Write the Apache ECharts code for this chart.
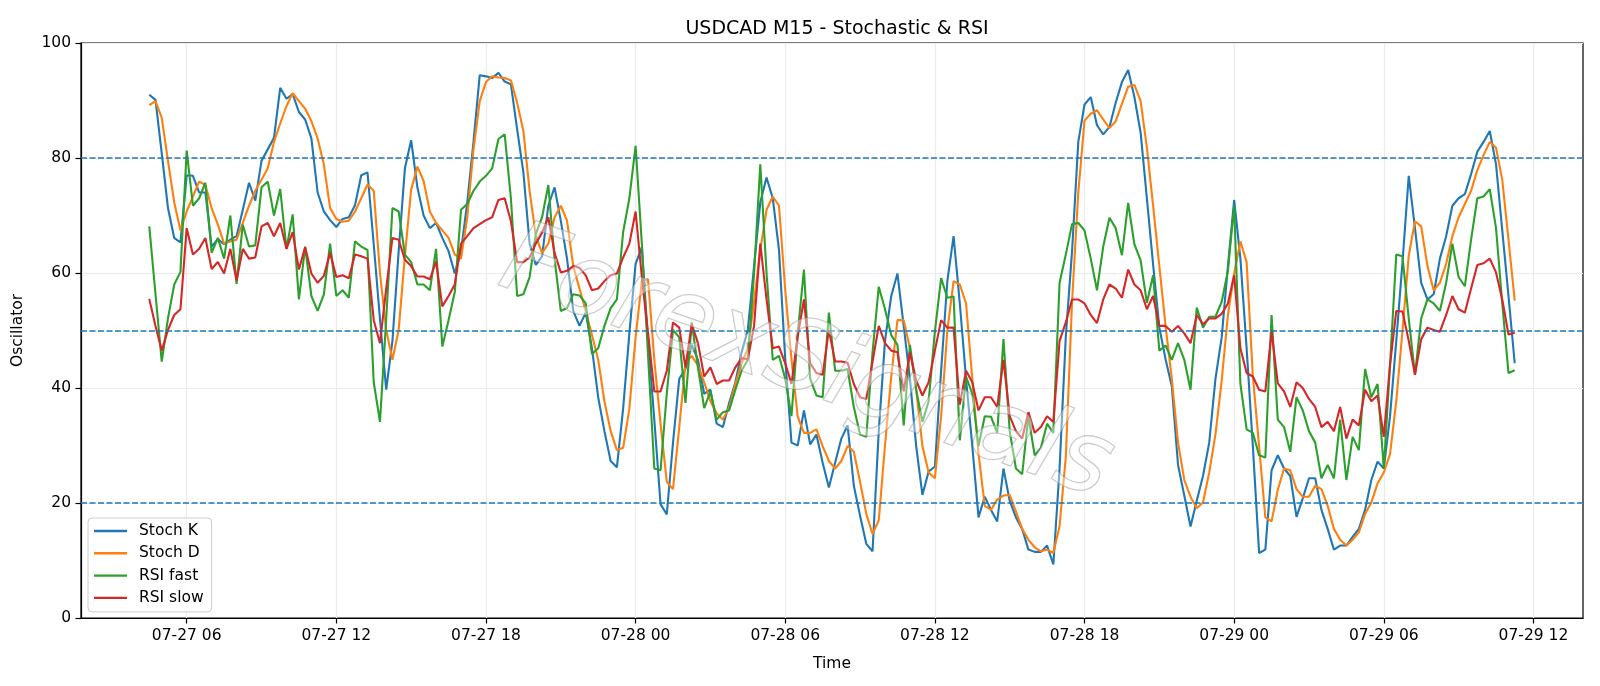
<!DOCTYPE html>
<html>
<head>
<meta charset="utf-8">
<title>USDCAD M15 - Stochastic & RSI</title>
<script src="https://cdn.jsdelivr.net/npm/echarts@6/dist/echarts.min.js"></script>
<style>
  html, body { margin: 0; padding: 0; background: #fff; }
  #chart { width: 1600px; height: 686px; }
</style>
</head>
<body>
<div id="chart"></div>
<script>
// 15-minute bars, 07-27 04:30 .. 07-29 11:15, x in hours since 07-27 00:00
const START_HOUR = 4.5;
const BAR_HOURS = 0.25;
const X_TICKS = [6, 12, 18, 24, 30, 36, 42, 48, 54, 60];
const Y_LEVELS = [80, 50, 20];

const STOCH_K = [
  91.0, 90.1, 80.8, 71.3, 66.1, 65.3, 77.0, 76.9, 74.0, 74.0,
  64.6, 65.9, 65.0, 65.8, 66.4, 71.0, 75.7, 72.6, 79.5, 81.5,
  83.5, 92.2, 90.3, 91.1, 88.0, 86.7, 83.4, 74.0, 70.7, 69.2,
  68.0, 69.4, 69.7, 71.8, 77.0, 77.5, 65.0, 52.0, 39.7, 48.2,
  63.8, 78.2, 83.1, 74.9, 70.0, 67.8, 68.7, 66.1, 63.8, 59.9,
  63.8, 72.3, 82.8, 94.4, 94.2, 93.9, 94.8, 93.3, 92.8, 85.0,
  77.5, 65.1, 61.4, 62.9, 71.7, 74.9, 69.1, 62.5, 53.4, 50.8,
  53.1, 46.9, 38.4, 32.5, 27.3, 26.2, 36.4, 49.5, 61.6, 64.5,
  48.2, 34.5, 19.8, 18.0, 30.5, 41.6, 43.3, 47.5, 44.9, 39.0,
  39.7, 33.8, 33.2, 37.4, 41.0, 46.2, 50.1, 61.2, 72.3, 76.6,
  73.0, 64.0, 45.0, 30.5, 30.0, 36.1, 30.2, 31.9, 27.0, 22.7,
  27.0, 31.2, 33.5, 23.0, 17.8, 12.9, 11.6, 32.5, 48.2, 56.0,
  59.9, 50.8, 41.6, 29.9, 21.4, 25.5, 26.3, 43.0, 58.6, 66.4,
  54.7, 41.6, 29.9, 17.5, 21.1, 18.8, 16.8, 26.0, 20.4, 17.5,
  15.5, 11.9, 11.5, 11.5, 12.6, 9.3, 26.0, 49.0, 63.8, 82.8,
  89.3, 90.6, 85.7, 84.1, 85.4, 89.6, 93.2, 95.3, 90.6, 84.4,
  73.0, 61.5, 50.5, 45.0, 40.3, 26.6, 21.3, 15.9, 20.4, 24.7,
  30.5, 41.6, 48.8, 61.2, 72.7, 62.5, 46.9, 29.9, 11.3, 11.9,
  25.7, 28.3, 26.0, 24.7, 17.6, 20.8, 24.3, 24.3, 18.8, 15.5,
  11.9, 12.6, 12.6, 14.1, 15.5, 18.8, 24.0, 27.2, 26.0, 35.1,
  48.2, 61.9, 76.9, 67.8, 58.3, 55.4, 56.3, 62.5, 66.4, 71.7,
  73.0, 73.7, 77.2, 81.1, 82.8, 84.7, 78.9, 67.4, 56.0, 44.3
];

const STOCH_D = [
  89.2, 89.9, 87.0, 79.5, 72.3, 67.4, 70.7, 73.3, 75.9, 75.3,
  71.3, 68.4, 65.1, 65.5, 65.8, 68.7, 71.7, 74.3, 76.2, 78.2,
  82.8, 86.0, 89.0, 91.3, 89.9, 88.6, 86.4, 83.4, 78.9, 71.3,
  69.4, 68.9, 69.1, 70.7, 73.0, 75.4, 74.3, 60.0, 50.1, 44.9,
  50.1, 63.0, 74.5, 78.5, 76.0, 70.7, 68.7, 67.4, 66.1, 63.2,
  62.5, 69.7, 81.5, 89.9, 93.2, 94.2, 94.0, 93.9, 93.5, 89.6,
  84.7, 74.3, 66.4, 63.5, 65.1, 69.7, 71.7, 69.1, 61.2, 57.3,
  53.4, 49.2, 44.9, 37.7, 32.5, 29.2, 29.6, 36.4, 48.8, 58.6,
  58.9, 44.9, 33.8, 23.7, 22.4, 33.2, 44.3, 45.6, 43.9, 41.0,
  37.7, 35.6, 34.5, 36.6, 40.7, 44.3, 46.9, 55.0, 64.0, 71.0,
  73.3, 71.7, 57.0, 45.0, 35.0, 32.2, 32.2, 32.8, 29.9, 27.3,
  26.0, 27.3, 29.9, 28.9, 23.7, 18.1, 14.6, 17.0, 30.0, 42.0,
  51.8, 51.8, 46.9, 39.7, 29.9, 25.3, 24.3, 35.1, 50.0, 58.6,
  58.0, 54.7, 41.6, 28.6, 19.5, 18.8, 20.6, 21.3, 21.4, 18.5,
  15.5, 13.6, 12.3, 11.6, 11.9, 11.3, 16.0, 28.0, 55.0, 74.0,
  86.5, 87.7, 88.3, 86.7, 85.2, 86.4, 89.4, 92.4, 92.7, 89.9,
  81.8, 71.7, 61.2, 50.8, 41.6, 30.5, 24.0, 21.1, 19.1, 20.1,
  25.3, 31.9, 41.3, 52.7, 59.9, 65.5, 61.9, 42.0, 29.9, 17.5,
  16.8, 22.3, 26.0, 25.7, 22.4, 21.1, 21.1, 23.0, 22.4, 19.5,
  15.5, 13.6, 12.6, 13.6, 14.9, 18.1, 20.1, 23.4, 25.3, 28.5,
  37.7, 50.0, 63.0, 69.0, 68.1, 61.2, 57.0, 58.3, 61.6, 66.4,
  69.7, 72.0, 74.3, 77.9, 80.5, 82.8, 81.8, 76.2, 65.8, 55.2
];

const RSI_FAST = [
  68.1, 56.3, 44.6, 52.1, 58.0, 60.2, 81.3, 71.7, 73.0, 75.7,
  63.5, 66.1, 62.5, 70.0, 58.1, 68.4, 64.6, 64.8, 74.9, 75.9,
  70.0, 74.6, 64.2, 70.2, 55.4, 64.6, 56.0, 53.4, 56.3, 65.1,
  56.0, 57.0, 55.7, 65.5, 64.6, 64.0, 41.0, 34.1, 52.0, 71.3,
  70.7, 63.2, 61.9, 58.0, 58.0, 57.0, 64.2, 47.2, 51.8, 56.7,
  71.0, 72.0, 74.3, 75.9, 76.9, 78.2, 83.3, 84.1, 73.0, 56.0,
  56.3, 59.3, 66.8, 69.7, 75.3, 62.5, 53.4, 53.9, 56.3, 56.1,
  54.7, 45.9, 46.9, 50.8, 53.9, 55.4, 67.1, 73.0, 82.1, 65.1,
  45.6, 26.0, 25.7, 39.0, 50.1, 48.8, 37.4, 51.4, 43.6, 36.5,
  39.4, 34.5, 35.8, 36.1, 39.7, 43.0, 44.9, 59.9, 78.9, 60.0,
  44.9, 45.6, 41.6, 35.1, 49.5, 60.6, 41.6, 38.7, 38.4, 53.1,
  43.0, 43.0, 43.3, 36.7, 31.9, 31.5, 46.2, 57.6, 53.7, 49.2,
  47.5, 33.5, 47.5, 39.7, 34.1, 37.7, 49.8, 59.1, 55.7, 55.9,
  30.9, 42.0, 39.0, 29.9, 35.1, 35.0, 32.2, 48.5, 32.5, 26.0,
  25.0, 35.1, 28.3, 29.6, 33.8, 32.2, 58.3, 63.2, 68.5, 68.7,
  67.4, 62.5, 57.0, 64.6, 69.6, 67.8, 63.1, 72.2, 65.0, 62.2,
  54.8, 59.6, 46.5, 47.4, 44.9, 47.8, 44.9, 39.7, 54.0, 50.5,
  52.4, 52.4, 55.0, 60.4, 71.7, 40.7, 32.8, 32.2, 28.3, 27.9,
  52.7, 34.5, 33.2, 28.9, 38.4, 36.1, 32.5, 30.5, 24.3, 26.6,
  24.3, 34.5, 24.0, 31.5, 29.2, 43.3, 38.4, 40.7, 26.0, 44.0,
  63.2, 62.9, 52.1, 42.3, 52.1, 55.4, 54.7, 53.4, 58.3, 65.1,
  59.3, 57.7, 65.8, 73.0, 73.3, 74.6, 67.8, 54.7, 42.6, 43.1
];

const RSI_SLOW = [
  55.5, 50.8, 46.5, 50.1, 52.7, 53.7, 67.8, 63.2, 64.2, 66.1,
  60.7, 61.9, 59.9, 64.2, 58.7, 64.2, 62.5, 62.7, 68.1, 68.7,
  66.4, 68.7, 64.2, 67.1, 60.6, 64.5, 59.9, 58.3, 59.5, 63.5,
  59.3, 59.6, 59.1, 63.2, 62.9, 62.5, 51.8, 47.8, 57.3, 66.1,
  65.8, 62.3, 61.2, 59.4, 59.4, 58.9, 62.0, 54.2, 56.0, 58.0,
  65.1, 66.4, 67.8, 68.5, 69.2, 69.7, 72.7, 73.0, 69.0, 61.9,
  61.9, 62.7, 65.1, 67.0, 69.7, 63.5, 60.1, 60.4, 61.2, 60.9,
  59.6, 57.0, 57.3, 58.6, 59.6, 59.9, 62.7, 65.1, 70.7, 59.3,
  49.5, 39.4, 39.4, 43.0, 51.4, 50.5, 43.6, 51.1, 47.8, 42.0,
  43.6, 40.7, 41.3, 41.3, 43.6, 45.2, 45.0, 50.8, 65.1, 55.4,
  46.9, 47.2, 44.3, 40.7, 49.0, 55.4, 44.3, 42.6, 42.3, 50.1,
  44.6, 44.6, 44.4, 40.7, 38.4, 38.1, 44.6, 50.8, 47.8, 46.5,
  46.2, 39.4, 46.2, 41.3, 38.7, 41.0, 46.5, 51.8, 50.5, 50.5,
  37.1, 43.0, 41.0, 36.1, 38.4, 38.4, 36.7, 44.9, 35.1, 32.5,
  31.2, 35.8, 32.2, 33.2, 35.1, 34.1, 48.2, 51.4, 55.4, 55.4,
  54.7, 52.7, 51.3, 55.4, 58.0, 57.3, 55.7, 60.6, 58.0, 57.0,
  53.7, 56.0, 50.8, 50.8, 49.8, 50.8, 49.5, 47.8, 52.7, 51.1,
  52.1, 52.1, 52.9, 54.7, 59.6, 46.9, 42.6, 42.0, 39.7, 39.4,
  49.8, 40.8, 39.4, 36.7, 41.0, 40.0, 38.1, 36.7, 33.2, 34.1,
  32.5, 36.7, 31.2, 34.5, 33.5, 39.7, 37.7, 38.7, 31.5, 44.0,
  53.4, 53.3, 48.2, 42.3, 48.5, 50.5, 50.1, 49.8, 52.7, 56.0,
  53.7, 53.1, 57.3, 61.4, 61.7, 62.5, 60.1, 55.4, 49.3, 49.6
];

const TIMES = STOCH_K.map((_, i) => START_HOUR + i * BAR_HOURS);
const SPAN = TIMES[TIMES.length - 1] - TIMES[0];
const X_MIN = TIMES[0] - SPAN * 0.05;
const X_MAX = TIMES[TIMES.length - 1] + SPAN * 0.05;

const FONT = 'DejaVu Sans';

function pairs(values) {
  return values.map((v, i) => [TIMES[i], v]);
}

function formatHour(v) {
  const day = 27 + Math.floor(v / 24);
  const hour = Math.round(v % 24);
  return `07-${day} ${String(hour).padStart(2, '0')}`;
}

function lineSeries(name, color, values, extra) {
  return Object.assign({
    name,
    type: 'line',
    data: pairs(values),
    showSymbol: false,
    symbol: 'none',
    lineStyle: { width: 2.1, color },
    itemStyle: { color },
    emphasis: { disabled: true }
  }, extra || {});
}

const chart = echarts.init(document.getElementById('chart'), null, { renderer: 'canvas' });

chart.setOption({
  animation: false,
  backgroundColor: '#ffffff',
  title: {
    text: 'USDCAD M15 - Stochastic & RSI',
    left: 832,
    top: 15,
    textAlign: 'center',
    textStyle: { fontFamily: FONT, fontSize: 19, fontWeight: 'normal', color: '#000' }
  },
  grid: {
    left: 81, right: 17, top: 43, bottom: 68,
    show: true, borderColor: '#000', borderWidth: 1.2, backgroundColor: 'transparent'
  },
  legend: {
    orient: 'vertical',
    left: 88,
    top: 518,
    padding: [4, 8, 5, 6],
    itemGap: 4.3,
    itemWidth: 33,
    itemHeight: 2.4,
    icon: 'rect',
    backgroundColor: 'rgba(255,255,255,0.8)',
    borderColor: '#cccccc',
    borderWidth: 1,
    borderRadius: 4,
    textStyle: { fontFamily: FONT, fontSize: 15.5, color: '#000', lineHeight: 18, padding: [0, 0, 0, 7] },
    data: ['Stoch K', 'Stoch D', 'RSI fast', 'RSI slow']
  },
  xAxis: {
    type: 'value',
    min: X_MIN,
    max: X_MAX,
    name: 'Time',
    nameLocation: 'middle',
    nameGap: 38,
    nameTextStyle: { fontFamily: FONT, fontSize: 15.5, color: '#000' },
    axisLine: { show: true, lineStyle: { color: '#000', width: 1.2 } },
    axisTick: { show: true, inside: false, length: 5.5, lineStyle: { color: '#000', width: 1.2 }, customValues: X_TICKS },
    axisLabel: {
      fontFamily: FONT, fontSize: 15.5, color: '#000', margin: 10,
      customValues: X_TICKS,
      formatter: formatHour
    },
    splitLine: { show: true, lineStyle: { color: '#ebebeb', width: 1.2 } }
  },
  yAxis: {
    type: 'value',
    min: 0,
    max: 100,
    interval: 20,
    name: 'Oscillator',
    nameLocation: 'middle',
    nameGap: 55,
    nameTextStyle: { fontFamily: FONT, fontSize: 15.5, color: '#000' },
    axisLine: { show: true, lineStyle: { color: '#000', width: 1.2 } },
    axisTick: { show: true, inside: false, length: 5.5, lineStyle: { color: '#000', width: 1.2 } },
    axisLabel: { fontFamily: FONT, fontSize: 15.5, color: '#000', margin: 10 },
    splitLine: { show: true, lineStyle: { color: '#ebebeb', width: 1.2 } }
  },
  graphic: [{
    type: 'text',
    x: 806,
    y: 366,
    rotation: -0.34,
    z: 100,
    silent: true,
    style: {
      text: 'ForexSignals',
      fontFamily: FONT,
      fontStyle: 'italic',
      fontSize: 100,
      align: 'center',
      verticalAlign: 'middle',
      fill: 'rgba(255,255,255,0.4)',
      stroke: 'rgba(130,130,130,0.5)',
      lineWidth: 1.3
    }
  }],
  series: [
    lineSeries('Stoch K', '#1f77b4', STOCH_K, {
      markLine: {
        silent: true,
        symbol: 'none',
        label: { show: false },
        lineStyle: { color: '#1f77b4', type: [6, 2.5], width: 1.6 },
        data: Y_LEVELS.map((v) => ({ yAxis: v }))
      }
    }),
    lineSeries('Stoch D', '#ff7f0e', STOCH_D),
    lineSeries('RSI fast', '#2ca02c', RSI_FAST),
    lineSeries('RSI slow', '#d62728', RSI_SLOW)
  ]
});
</script>
</body>
</html>
